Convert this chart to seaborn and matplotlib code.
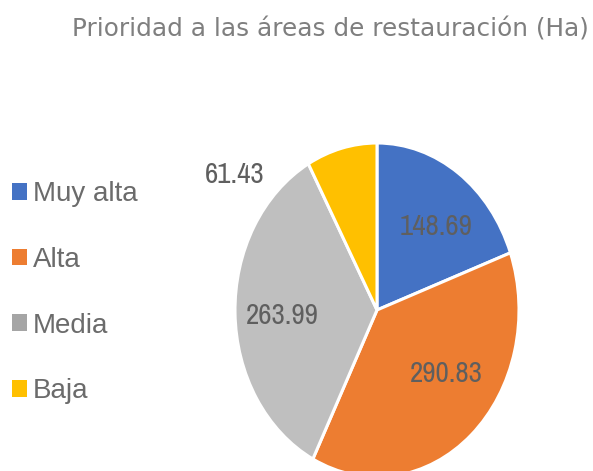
import matplotlib
matplotlib.use("Agg")
import matplotlib.pyplot as plt
from matplotlib import font_manager
from matplotlib.patches import Patch
import seaborn as sns
import pandas as pd
import numpy as np

sns.set_theme(style="white")

# Restoration priority areas (hectares)
categories = ["Muy alta", "Alta", "Media", "Baja"]
hectares = [148.69, 290.83, 263.99, 61.43]
value_labels = ["148.69", "290.83", "263.99", "61.43"]
title = "Prioridad a las áreas de restauración (Ha)"

slice_colors = ["#4472C4", "#ED7D31", "#BFBFBF", "#FFC000"]
legend_colors = ["#4472C4", "#ED7D31", "#A5A5A5", "#FFC000"]

df = pd.DataFrame({"categoria": categories, "ha": hectares})

# pick the lightest regular-ish condensed face available for the value labels
cands = [f for f in font_manager.fontManager.ttflist
         if ("Narrow" in f.name or "Condensed" in f.name) and f.style == "normal"]
cands.sort(key=lambda f: abs((f.weight if isinstance(f.weight, int) else 400) - 350))
if cands:
    narrow = dict(family=cands[0].name, stretch=cands[0].stretch,
                  weight=cands[0].weight)
else:
    narrow = dict(family="Roboto", stretch="normal", weight="normal")
label_size = 21 if narrow["family"] != "Roboto" else 19

W, H, DPI = 593, 471, 100
fig = plt.figure(figsize=(W / DPI, H / DPI), dpi=DPI)
ax = fig.add_axes([0, 0, 1, 1])

wedges, _ = ax.pie(
    df["ha"], colors=slice_colors, startangle=90, counterclock=False,
    wedgeprops=dict(edgecolor="white", linewidth=2.2),
)

# pie is drawn slightly stretched vertically: centre at (377, 310) px,
# horizontal radius 142 px, vertical radius 167 px
cx, cy, rx, ry = 377, 310, 142, 167
ax.set_aspect("auto")
ax.set_xlim(-cx / rx, (W - cx) / rx)
ax.set_ylim(-(H - cy) / ry, cy / ry)
ax.axis("off")

# label placement: (radius, angle in degrees) in pie units
label_place = [(0.65, 50), (0.62, -38), (0.67, -177), (1.29, 141)]
for txt, (r, a) in zip(value_labels, label_place):
    t = np.deg2rad(a)
    ax.text(r * np.cos(t), r * np.sin(t), txt, ha="center", va="center",
            fontsize=label_size, color="#5F5F5F",
            family=[narrow["family"], "DejaVu Sans"], stretch=narrow["stretch"],
            weight=narrow["weight"])

fig.text(72 / W, 1 - 29 / H, title, ha="left", va="center",
         fontsize=17.8, color="#7F7F7F", family=["DejaVu Sans"])

handles = [Patch(facecolor=c, edgecolor="none") for c in legend_colors]
leg = fig.legend(
    handles, categories, loc="upper left", bbox_to_anchor=(1 / W, 1 - 170 / H),
    frameon=False, handlelength=0.55, handleheight=0.55,
    handletextpad=0.2, labelspacing=1.43, borderaxespad=0,
    prop=dict(family=["Liberation Sans", "DejaVu Sans"], size=20),
)
for t in leg.get_texts():
    t.set_color("#6B6B6B")

fig.savefig("out.png", dpi=DPI)
